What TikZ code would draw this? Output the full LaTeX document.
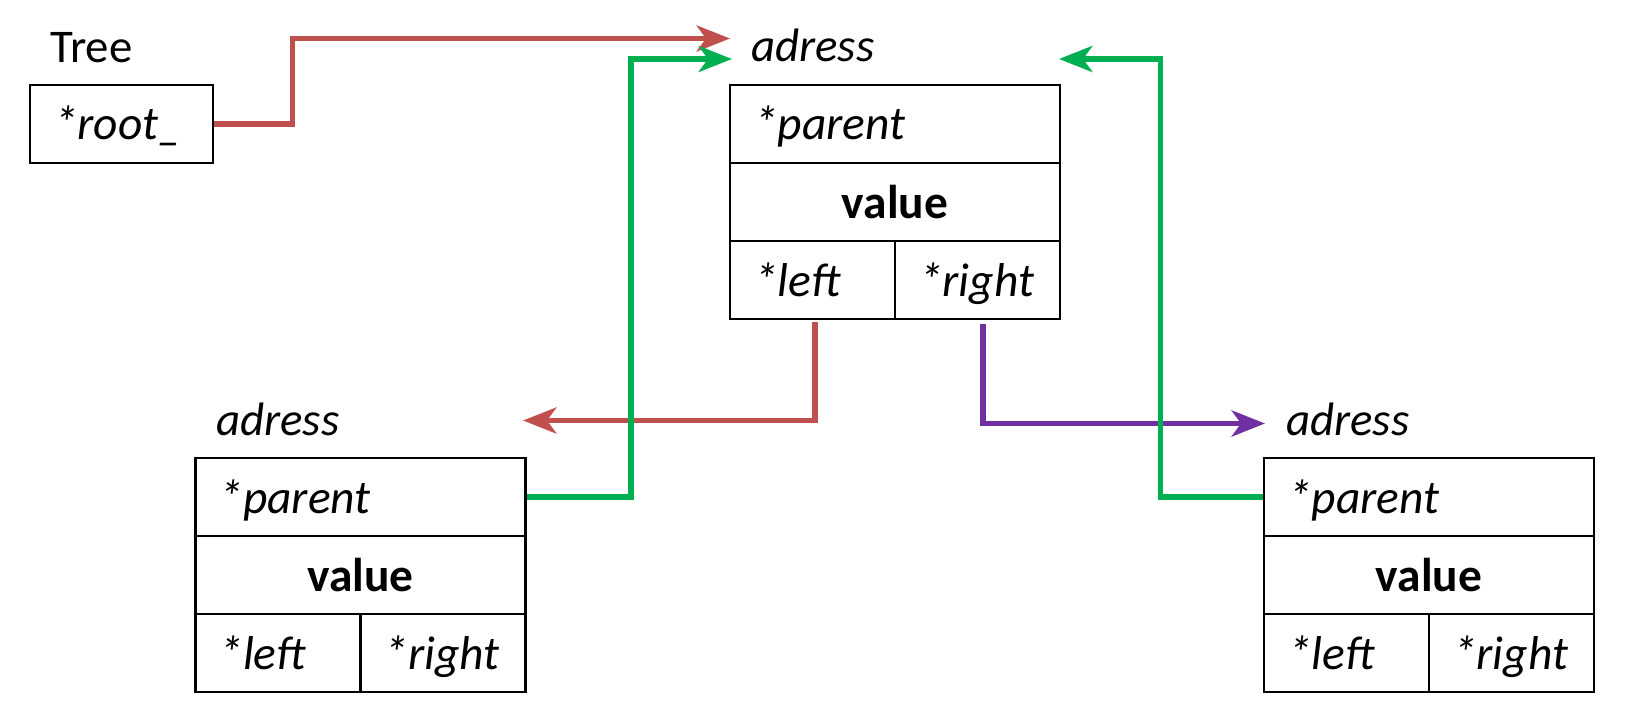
\documentclass[tikz,border=0pt]{standalone}
\usepackage{fontspec}
\setmainfont{Carlito}
\usetikzlibrary{arrows.meta}
\definecolor{cred}{HTML}{C0504D}
\definecolor{cgreen}{HTML}{00B050}
\definecolor{cpurple}{HTML}{7030A0}
\begin{document}
\begin{tikzpicture}[x=0.3mm,y=-0.3mm,
  cell/.style={draw=black,line width=2.3pt,rectangle,inner xsep=7.2mm,inner ysep=0pt,
    minimum height=23.4mm,text height=9.6mm,text depth=0mm,
    font=\fontsize{40.5}{46}\selectfont\itshape},
  wide/.style={cell,text width=84.6mm,align=left},
  half/.style={cell,text width=35.1mm,align=left},
  valcell/.style={cell,text width=84.6mm,align=center,font=\fontsize{40.5}{46}\selectfont\bfseries},
  lbl/.style={inner sep=0pt,anchor=base west,font=\fontsize{40}{46}\selectfont\itshape},
  conn/.style={line width=4.6pt,-{Stealth[length=10mm,width=7.8mm,inset=2.8mm]}},
  ]
\useasboundingbox (0,0) rectangle (1628,728);
% Tree
\node[inner sep=0pt,anchor=base west,font=\fontsize{40}{46}\selectfont] (tree) at (50,63) {Tree};
\node[cell,text width=40.5mm,align=left] (root) at (121.5,124) {*root\_};
% centre node
\node[lbl] (a0) at (751,61.5) {adress};
\node[wide] (cp) at (895,124) {*parent};
\node[valcell] (cv) at (895,202) {value};
\node[half] (cl) at (812.5,280) {*left};
\node[half] (cr) at (977.5,280) {*right};
% left node
\node[lbl] (a1) at (216,435) {adress};
\node[wide] (lp) at (360.5,497) {*parent};
\node[valcell] (lv) at (360.5,575) {value};
\node[half] (ll) at (278,653) {*left};
\node[half] (lr) at (443,653) {*right};
% right node
\node[lbl] (a2) at (1286,435) {adress};
\node[wide] (rp) at (1429,497) {*parent};
\node[valcell] (rv) at (1429,575) {value};
\node[half] (rl) at (1346.5,653) {*left};
\node[half] (rr) at (1511.5,653) {*right};
% connector ends
\coordinate (tR) at (730,38.5);
\coordinate (tG1) at (732,59);
\coordinate (tG2) at (1059,59);
\coordinate (sL) at (815,322);
\coordinate (tL) at (523,420.5);
\coordinate (sR) at (983,324);
\coordinate (tRR) at (1265,423.5);
% connectors
\draw[conn,cred] (root.east) -- ++(78,0) |- (tR);
\draw[conn,cred] (sL) |- (tL);
\draw[conn,cpurple] (sR) |- (tRR);
\draw[conn,cgreen] (lp.east) -- ++(104,0) |- (tG1);
\draw[conn,cgreen] (rp.west) -- ++(-102,0) |- (tG2);
\end{tikzpicture}
\end{document}
